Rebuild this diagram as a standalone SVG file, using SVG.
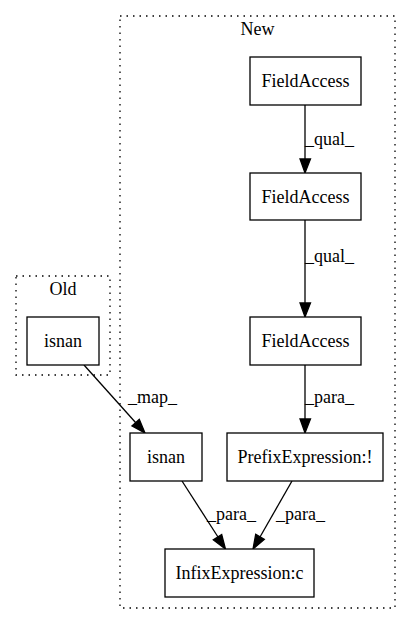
<svg xmlns="http://www.w3.org/2000/svg" width="411" height="624" viewBox="0 0 411 624">
<style>
text{font-family:"Liberation Serif","Times New Roman",serif;font-size:18px;fill:#000}
.n{fill:#fff;stroke:#000;stroke-width:1.3}
.c{fill:none;stroke:#000;stroke-width:1.3;stroke-dasharray:1.5,5}
.e{stroke:#000;stroke-width:1.3;fill:none}
.h{fill:#000;stroke:#000;stroke-width:1.3}
</style>
<rect width="411" height="624" fill="#fff"/>
<g id="cluster_new">
<rect class="c" x="120" y="16" width="275" height="592"/>
<text x="257.5" y="35" text-anchor="middle">New</text>
</g>
<g id="cluster_old">
<rect class="c" x="16" y="276" width="94" height="99"/>
<text x="63" y="295" text-anchor="middle">Old</text>
</g>
<g id="edges">
<line class="e" x1="305" y1="105" x2="305" y2="159"/>
<polygon class="h" points="300,159 310.5,159 305,173"/>
<text x="305" y="145">_qual_</text>
<line class="e" x1="305" y1="220" x2="305" y2="303"/>
<polygon class="h" points="300,303 310.5,303 305,317"/>
<text x="305" y="262">_qual_</text>
<line class="e" x1="305" y1="365" x2="305" y2="419"/>
<polygon class="h" points="300,419 310.5,419 305,433"/>
<text x="305" y="403">_para_</text>
<line class="e" x1="84" y1="365" x2="136" y2="423"/>
<polygon class="h" points="131.9,425.9 139.3,419.3 145,433"/>
<text x="128" y="403">_map_</text>
<line class="e" x1="182" y1="481" x2="218" y2="537"/>
<polygon class="h" points="213.3,539.9 221.7,534.5 225.5,549"/>
<text x="207" y="520">_para_</text>
<line class="e" x1="292" y1="481" x2="260" y2="537"/>
<polygon class="h" points="264.3,539.4 255.7,534.4 253,549"/>
<text x="276" y="520">_para_</text>
</g>
<g id="fa1"><rect class="n" x="250" y="57" width="111" height="48"/><text x="305.5" y="87" text-anchor="middle">FieldAccess</text></g>
<g id="fa2"><rect class="n" x="250" y="173" width="111" height="47"/><text x="305.5" y="203" text-anchor="middle">FieldAccess</text></g>
<g id="fa3"><rect class="n" x="250" y="317" width="111" height="48"/><text x="305.5" y="347" text-anchor="middle">FieldAccess</text></g>
<g id="isnan_old"><rect class="n" x="27" y="317" width="72" height="48"/><text x="63" y="347" text-anchor="middle">isnan</text></g>
<g id="isnan_new"><rect class="n" x="130" y="433" width="72" height="48"/><text x="166" y="463" text-anchor="middle">isnan</text></g>
<g id="prefix"><rect class="n" x="227" y="433" width="156" height="48"/><text x="305" y="463" text-anchor="middle">PrefixExpression:!</text></g>
<g id="infix"><rect class="n" x="165" y="549" width="149" height="48"/><text x="239.5" y="579" text-anchor="middle">InfixExpression:c</text></g>
</svg>
